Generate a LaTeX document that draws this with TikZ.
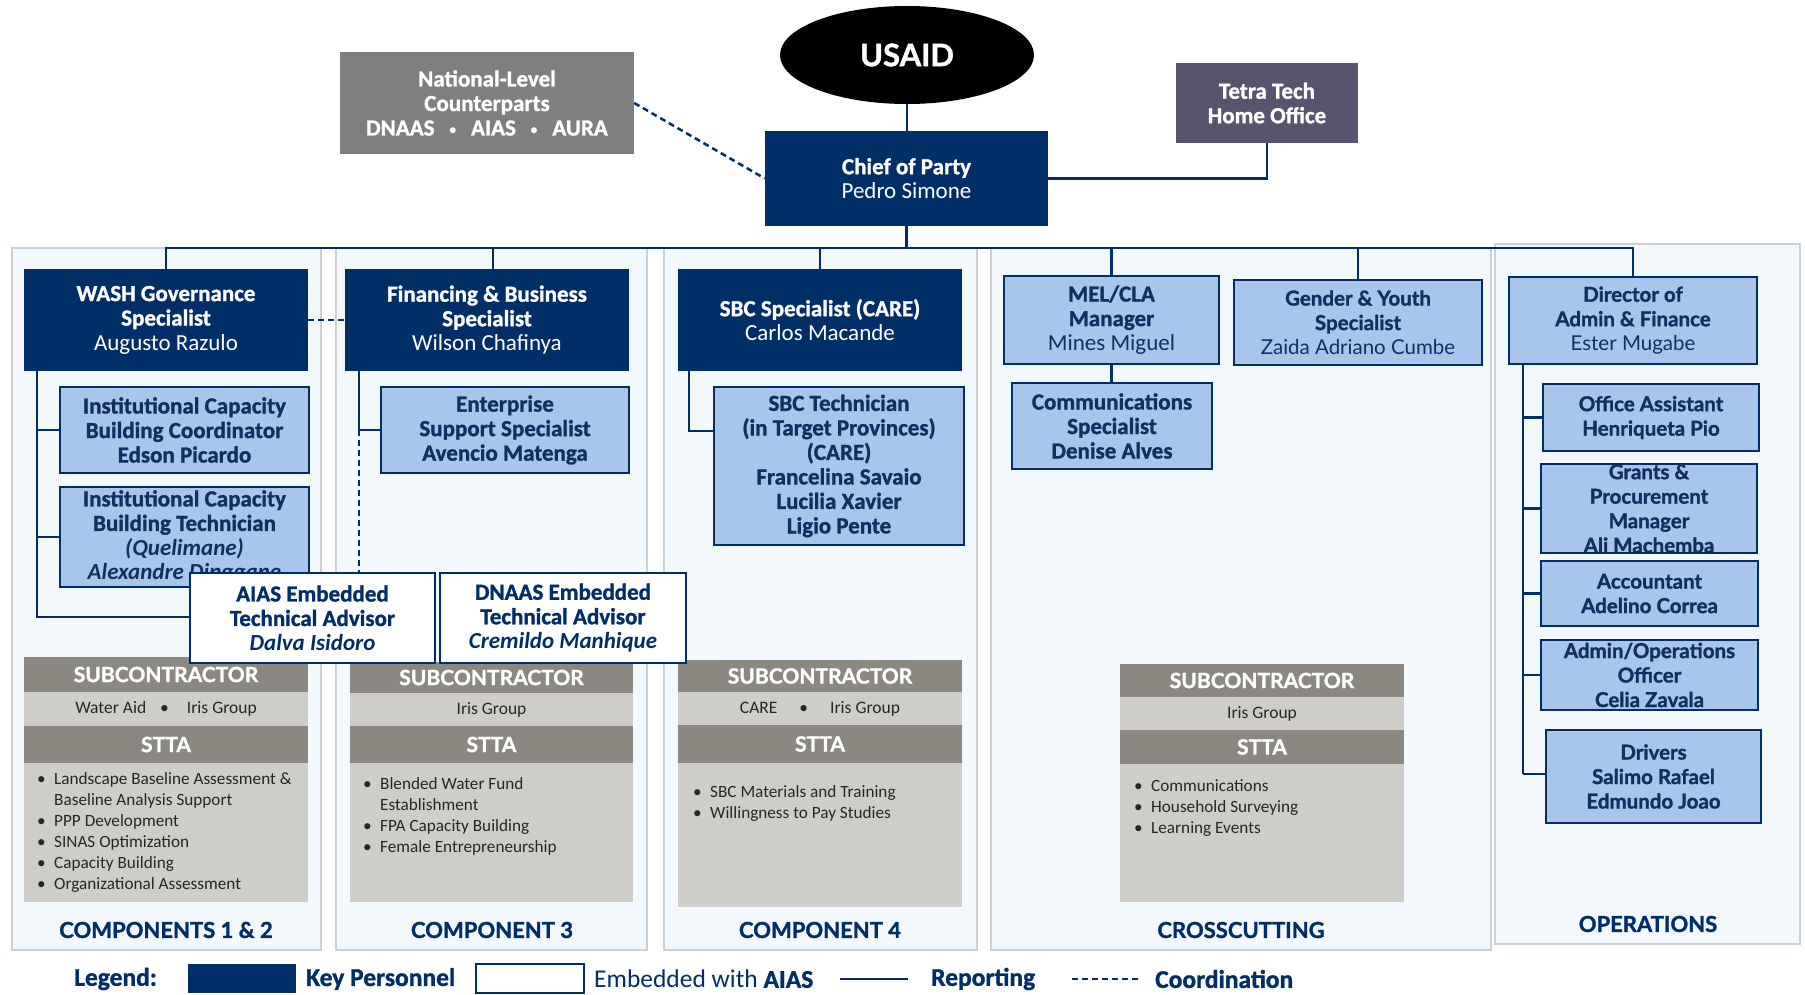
\documentclass[tikz,border=0pt]{standalone}
\usepackage{fontspec}
\setmainfont{Carlito}[BoldFeatures={FakeBold=1.2}]
\newfontfamily\widefont{Lato}[BoldFeatures={FakeBold=1.4}]
\usetikzlibrary{shapes.geometric}
\definecolor{navy}{HTML}{002E67}
\definecolor{txtnavy}{HTML}{10305F}
\definecolor{lightblue}{HTML}{A8C5EB}
\definecolor{panelbg}{HTML}{F3F8FD}
\definecolor{panelline}{HTML}{CBD0D6}
\definecolor{headgray}{HTML}{8B8781}
\definecolor{rowgray}{HTML}{CFCDC9}
\definecolor{natgray}{HTML}{7F7F7F}
\definecolor{tetra}{HTML}{58536E}
\definecolor{listtext}{HTML}{262626}
\newcommand\fbig{\fontsize{23}{24.5}\selectfont}
\newcommand\fwide{\widefont\fontsize{20.5}{24.5}\selectfont}
\newcommand\flst{\fontsize{17.2}{21}\selectfont}
\newcommand\frow{\fontsize{17.5}{20}\selectfont}
\newcommand\fhead{\widefont\bfseries\fontsize{21}{24}\selectfont}
\newcommand\flab{\widefont\bfseries\fontsize{22}{24}\selectfont}
\newcommand\fleg{\bfseries\fontsize{25.5}{28}\selectfont}
\newcommand\lbul{\makebox[17pt][l]{•}}
\newcommand\lcont{\hspace*{17pt}}
\newcommand\smbul{{\mdseries\fontsize{17}{17}\selectfont•}}
\newcommand\placebox[7]{\node[#1, minimum width={#5-#3}, minimum height={#6-#4}] (#2) at ({(#3+#5)/2},{(#4+#6)/2}) {#7};}
\begin{document}
\begin{tikzpicture}[x=1pt,y=-1pt,
  keybox/.style={fill=navy, draw=none, text=white, inner sep=0pt, align=center, font=\fbig\bfseries},
  staff/.style={fill=lightblue, draw=navy, line width=2.5pt, text=txtnavy, inner sep=0pt, align=center, font=\fbig\bfseries},
  staffw/.style={staff, font=\fwide\bfseries},
  embbox/.style={fill=white, draw=navy, line width=2.5pt, text=navy, inner sep=0pt, align=center, font=\fbig\bfseries},
  panel/.style={fill=panelbg, draw=panelline, line width=1.2pt, inner sep=0pt},
  subhead/.style={fill=headgray, text=white, font=\fhead, inner sep=0pt},
  subrow/.style={fill=rowgray, text=listtext, font=\frow, inner sep=0pt},
  sublist/.style={fill=rowgray, inner sep=0pt},
  lsttext/.style={align=left, font=\flst, text=listtext, inner sep=0pt, anchor=north west},
  complab/.style={text=navy, font=\flab, inner sep=0pt},
  conn/.style={draw=navy, line width=2.5pt},
  coordl/.style={draw=navy, line width=2.5pt, dash pattern=on 6pt off 4pt},
  legtext/.style={text=navy, font=\fleg, anchor=west, inner sep=0pt}]
\useasboundingbox (0,0) rectangle (1805,995);
\path[fill=white] (0,0) rectangle (1805,995);

% panels
\placebox{panel}{p1}{12}{248}{321}{950}{}
\placebox{panel}{p2}{336}{248}{647}{950}{}
\placebox{panel}{p3}{664}{248}{977}{950}{}
\placebox{panel}{p4}{991}{248}{1491}{950}{}
\placebox{panel}{p5}{1495}{244}{1800}{944}{}

% top
\node[ellipse, fill=black, minimum width=254, minimum height=98, inner sep=0pt, text=white, font=\widefont\bfseries\fontsize{31}{34}\selectfont] (usaid) at (907,55) {USAID};
\placebox{keybox, fill=natgray}{national}{340}{52}{634}{154}{National-Level\\Counterparts\\DNAAS\hspace{14pt}\smbul\hspace{14pt}AIAS\hspace{14pt}\smbul\hspace{14pt}AURA}
\placebox{keybox, fill=tetra}{tetra}{1176}{63}{1358}{143}{Tetra Tech\\Home Office}
\placebox{keybox}{chief}{765}{131}{1048}{226}{Chief of Party\\{\mdseries Pedro Simone}}

% subcontractor blocks
\placebox{subhead}{s1h}{24}{657}{308}{692}{SUBCONTRACTOR}
\placebox{subrow}{s1r}{24}{692}{308}{726}{Water Aid\hspace{14pt}•\hspace{18pt}Iris Group}
\placebox{subhead}{s1s}{24}{726}{308}{763}{STTA}
\placebox{sublist}{s1l}{24}{763}{308}{902}{}
\node[lsttext] (s1t) at (37,772) {\lbul Landscape Baseline Assessment \&\\\lcont Baseline Analysis Support\\\lbul PPP Development\\\lbul SINAS Optimization\\\lbul Capacity Building\\\lbul Organizational Assessment};

\placebox{subhead}{s2h}{350}{662}{633}{693}{SUBCONTRACTOR}
\placebox{subrow}{s2r}{350}{693}{633}{726}{Iris Group}
\placebox{subhead}{s2s}{350}{726}{633}{763}{STTA}
\placebox{sublist}{s2l}{350}{763}{633}{902}{}
\node[lsttext] (s2t) at (363,777) {\lbul Blended Water Fund\\\lcont Establishment\\\lbul FPA Capacity Building\\\lbul Female Entrepreneurship};

\placebox{subhead}{s3h}{678}{660}{962}{692}{SUBCONTRACTOR}
\placebox{subrow}{s3r}{678}{692}{962}{725}{CARE\hspace{22pt}•\hspace{22pt}Iris Group}
\placebox{subhead}{s3s}{678}{725}{962}{763}{STTA}
\placebox{sublist}{s3l}{678}{763}{962}{907}{}
\node[lsttext] (s3t) at (693,785) {\lbul SBC Materials and Training\\\lbul Willingness to Pay Studies};

\placebox{subhead}{s4h}{1120}{664}{1404}{697}{SUBCONTRACTOR}
\placebox{subrow}{s4r}{1120}{697}{1404}{730}{Iris Group}
\placebox{subhead}{s4s}{1120}{730}{1404}{764}{STTA}
\placebox{sublist}{s4l}{1120}{764}{1404}{902}{}
\node[lsttext] (s4t) at (1134,779) {\lbul Communications\\\lbul Household Surveying\\\lbul Learning Events};

% key personnel row
\placebox{keybox}{wash}{24}{269}{308}{371}{WASH Governance\\Specialist\\{\mdseries Augusto Razulo}}
\placebox{keybox}{fin}{345}{269}{629}{371}{Financing \& Business\\Specialist\\{\mdseries Wilson Chafinya}}
\placebox{keybox}{sbc}{678}{269}{962}{371}{SBC Specialist (CARE)\\{\mdseries Carlos Macande}}
\placebox{staff}{mel}{1004}{276}{1219}{364}{MEL/CLA\\Manager\\{\mdseries Mines Miguel}}
\placebox{staffw}{gender}{1234}{280}{1482}{365}{Gender \& Youth\\Specialist\\{\mdseries Zaida Adriano Cumbe}}
\placebox{staffw}{director}{1509}{277}{1757}{364}{Director of\\Admin \& Finance\\{\mdseries Ester Mugabe}}

% staff boxes
\placebox{staff}{icbc}{60}{387}{309}{473}{Institutional Capacity\\Building Coordinator\\Edson Picardo}
\placebox{staff}{icbt}{60}{487}{309}{587}{Institutional Capacity\\Building Technician\\\textit{(Quelimane)}\\\textit{Alexandre Dinggane}}
\placebox{staff}{ent}{381}{387}{629}{473}{Enterprise\\Support Specialist\\Avencio Matenga}
\placebox{staff}{sbct}{714}{387}{964}{545}{SBC Technician\\(in Target Provinces)\\(CARE)\\Francelina Savaio\\Lucilia Xavier\\Ligio Pente}
\placebox{staff}{comm}{1012}{383}{1212}{469}{Communications\\Specialist\\Denise Alves}
\placebox{staffw}{office}{1543}{384}{1759}{451}{Office Assistant\\Henriqueta Pio}
\placebox{staffw, inner ysep=-4pt}{grants}{1541}{464}{1757}{553}{Grants \&\\Procurement\\Manager\\Ali Machemba}
\placebox{staffw}{acct}{1541}{561}{1758}{626}{Accountant\\Adelino Correa}
\placebox{staffw, inner ysep=-2pt}{adminops}{1541}{640}{1758}{710}{Admin/Operations\\Officer\\Celia Zavala}
\placebox{staffw}{drivers}{1546}{730}{1761}{823}{Drivers\\Salimo Rafael\\Edmundo Joao}

% embedded advisors
\placebox{embbox}{aias}{190}{573}{435}{663}{AIAS Embedded\\Technical Advisor\\\textit{Dalva Isidoro}}
\placebox{embbox}{dnaas}{440}{573}{686}{663}{DNAAS Embedded\\Technical Advisor\\\textit{Cremildo Manhique}}

% connectors
\coordinate (busy) at (0,248);
\coordinate (d2) at (493,248);
\coordinate (wt) at (37,617);
\coordinate (ft) at (359,430);
\coordinate (st) at (689,431);
\coordinate (dt) at (1523,774);
\draw[conn] (usaid.south) -- (usaid.south |- chief.north);
\draw[conn] (chief.east) -| (tetra.south);
\draw[coordl] (national.east) -- (chief.west);
\draw[conn] (chief.south) -- (chief.south |- busy);
\draw[conn] (wash.north) -- (wash.north |- busy) -- (director.north |- busy) -- (director.north);
\draw[conn] (d2) -- (d2 |- fin.north);
\draw[conn] (sbc.north |- busy) -- (sbc.north);
\draw[conn] (mel.north |- busy) -- (mel.north);
\draw[conn] (gender.north |- busy) -- (gender.north);
\draw[coordl] (wash.east) -- (fin.west);
\draw[conn] (wt |- wash.south) -- (wt) -- (wt -| aias.west);
\draw[conn] (wt |- icbc.west) -- (icbc.west);
\draw[conn] (wt |- icbt.west) -- (icbt.west);
\draw[conn] (ft |- fin.south) -- (ft) -- (ft -| ent.west);
\draw[coordl] (ft) -- (ft |- aias.north);
\draw[conn] (st |- sbc.south) -- (st) -- (st -| sbct.west);
\draw[conn] (mel.south) -- (mel.south |- comm.north);
\draw[conn] (dt |- director.south) -- (dt);
\draw[conn] (dt |- office.west) -- (office.west);
\draw[conn] (dt |- grants.west) -- (grants.west);
\draw[conn] (dt |- acct.west) -- (acct.west);
\draw[conn] (dt |- adminops.west) -- (adminops.west);
\draw[conn] (dt) -- (dt -| drivers.west);

% panel labels
\node[complab] (lab1) at (166,930) {COMPONENTS 1 \& 2};
\node[complab] (lab2) at (492,930) {COMPONENT 3};
\node[complab] (lab3) at (820,930) {COMPONENT 4};
\node[complab] (lab4) at (1241,930) {CROSSCUTTING};
\node[complab] (lab5) at (1648,924) {OPERATIONS};

% legend
\node[legtext] (legl) at (74,979) {Legend:};
\placebox{fill=navy, inner sep=0pt}{legkey}{188}{964}{296}{993}{}
\node[legtext] (legkt) at (306,979) {Key Personnel};
\placebox{fill=white, draw=navy, line width=2.5pt, inner sep=0pt}{legemb}{476}{964}{584}{993}{}
\node[legtext] (legem) at (594,979) {{\mdseries Embedded with} AIAS};
\coordinate (lr1) at (840,979);
\coordinate (lr2) at (908,979);
\draw[conn] (lr1) -- (lr2);
\node[legtext] (legrt) at (931,979) {Reporting};
\coordinate (lc1) at (1072,979);
\coordinate (lc2) at (1140,979);
\draw[coordl] (lc1) -- (lc2);
\node[legtext] (legct) at (1155,979) {Coordination};
\end{tikzpicture}
\end{document}
